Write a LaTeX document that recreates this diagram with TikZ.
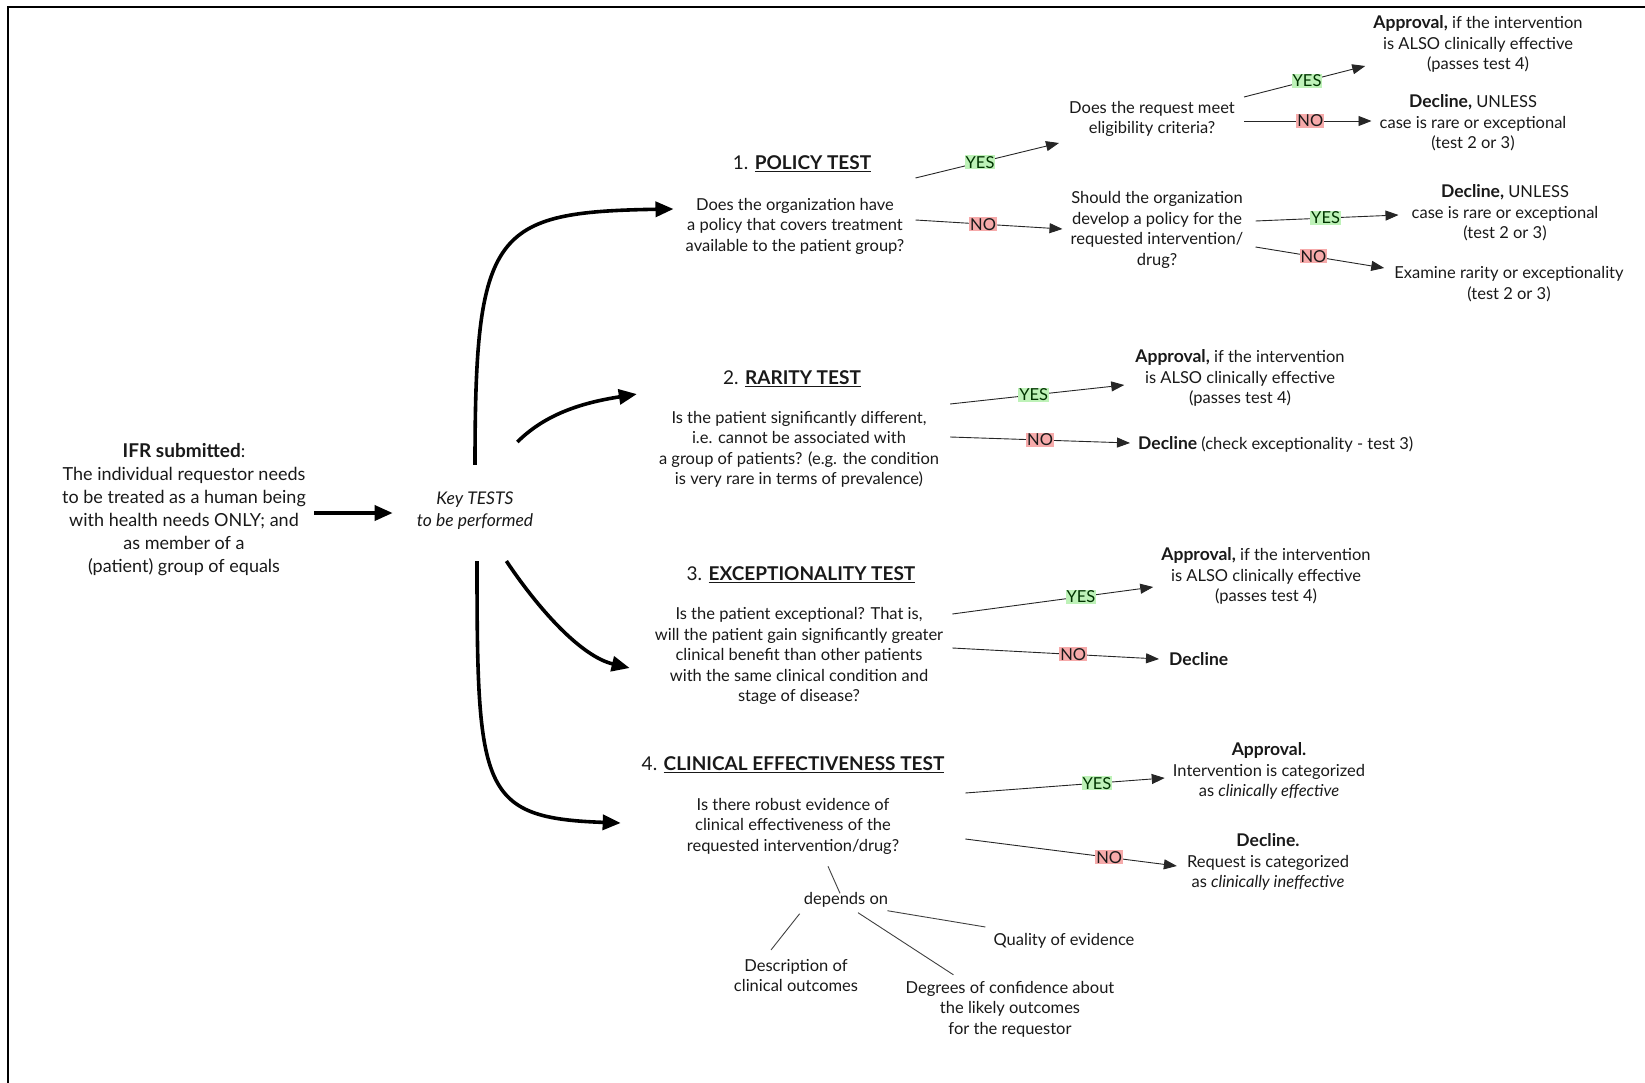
\documentclass[tikz,border=0pt]{standalone}
\usepackage{fontspec}
\setmainfont{Lato}
\usetikzlibrary{arrows.meta}
\definecolor{yesgreen}{RGB}{190,242,184}
\definecolor{nored}{RGB}{246,170,170}

\begin{document}
\begin{tikzpicture}[x=1pt, y=-1pt,
  txt/.style={align=center, inner sep=0pt, text=black!90, font=\fontsize{16.5}{20.5}\selectfont},
  head/.style={inner sep=0pt, text=black!90, font=\fontsize{19}{20}\selectfont},
  big/.style={line width=3.6pt, -{Triangle[length=18pt,width=15pt]}},
  link/.style={line width=0.9pt, black!85, -{Triangle[length=13pt,width=10pt]}},
  tie/.style={line width=0.9pt, black!75},
  yes/.style={fill=yesgreen, inner sep=1pt, text=black!80!green, font=\fontsize{16.5}{16}\selectfont},
  no/.style={fill=nored, inner sep=1pt, text=black!90, font=\fontsize{16.5}{16}\selectfont}]

% page and frame
\useasboundingbox (0,0) rectangle (1645,1083);
\clip (0,0) rectangle (1645,1083);
\draw[line width=2.5pt] (8,7) rectangle (1700,1150);

% request and key tests
\node[txt, font=\fontsize{18}{23}\selectfont] (ifr) at (184,510) {{\fontsize{19}{23}\selectfont\textbf{IFR submitted}}:\\The individual requestor needs\\to be treated as a human being\\with health needs ONLY; and\\as member of a\\(patient) group of equals};
\node[txt, font=\itshape\fontsize{17.5}{22}\selectfont] (key) at (475,511) {Key TESTS\\to be performed};
\draw[big] ([shift={(8,3)}]ifr.east) -- ([shift={(-24,2)}]key.west);

% 1. policy test
\node[head] (h1) at (802,164) {1. \underline{\textbf{POLICY TEST}}};
\node[txt] (q1) at (795,226) {Does the organization have\\a policy that covers treatment\\available to the patient group?};
\node[txt] (elig) at (1152,119) {Does the request meet\\eligibility criteria?};
\node[txt] (dev) at (1157,230) {Should the organization\\develop a policy for the\\requested intervention/\\drug?};
\node[txt] (app1) at (1478,44) {{\fontsize{17.5}{20}\selectfont\textbf{Approval,}} if the intervention\\is ALSO clinically effective\\(passes test 4)};
\node[txt] (dec1) at (1473,123) {{\fontsize{17.5}{20}\selectfont\textbf{Decline,}} UNLESS\\case is rare or exceptional\\(test 2 or 3)};
\node[txt] (dec2) at (1505,213) {{\fontsize{17.5}{20}\selectfont\textbf{Decline,}} UNLESS\\case is rare or exceptional\\(test 2 or 3)};
\node[txt] (exam) at (1509,284) {Examine rarity or exceptionality\\(test 2 or 3)};

\draw[link] ([shift={(11,-48)}]q1.east) -- node[yes, pos=0.45]{YES} ([shift={(-10,24)}]elig.west);
\draw[link] ([shift={(11,-6)}]q1.east) -- node[no, pos=0.46]{NO} ([shift={(-8,-1)}]dev.west);
\draw[link] ([shift={(9,-22)}]elig.east) -- node[yes, pos=0.52]{YES} ([shift={(-8,22)}]app1.west);
\draw[link] ([shift={(9,2)}]elig.east) -- node[no, pos=0.52]{NO} ([shift={(-8,-2)}]dec1.west);
\draw[link] ([shift={(12,-9)}]dev.east) -- node[yes, pos=0.49]{YES} ([shift={(-13,2)}]dec2.west);
\draw[link] ([shift={(12,17)}]dev.east) -- node[no, pos=0.45]{NO} ([shift={(-10,-16)}]exam.west);

% 2. rarity test
\node[head] (h2) at (792,379) {2. \underline{\textbf{RARITY TEST}}};
\node[txt] (q2) at (799,449.5) {Is the patient significantly different,\\i.e. cannot be associated with\\a group of patients? (e.g. the condition\\is very rare in terms of prevalence)};
\node[txt] (app2) at (1240,378) {{\fontsize{17.5}{20}\selectfont\textbf{Approval,}} if the intervention\\is ALSO clinically effective\\(passes test 4)};
\node[txt, anchor=west] (rdec) at (1138,444) {{\fontsize{17.5}{20}\selectfont\textbf{Decline}} (check exceptionality - test 3)};

\draw[link] ([shift={(11,-45.5)}]q2.east) -- node[yes, pos=0.48]{YES} ([shift={(-11,7)}]app2.west);
\draw[link] ([shift={(11,-12.5)}]q2.east) -- node[no, pos=0.5]{NO} ([shift={(-8,-1)}]rdec.west);

% 3. exceptionality test
\node[head] (h3) at (801,575) {3. \underline{\textbf{EXCEPTIONALITY TEST}}};
\node[txt] (q3) at (799,656) {Is the patient exceptional? That is,\\will the patient gain significantly greater\\clinical benefit than other patients\\with the same clinical condition and\\stage of disease?};
\node[txt] (app3) at (1266,576) {{\fontsize{17.5}{20}\selectfont\textbf{Approval,}} if the intervention\\is ALSO clinically effective\\(passes test 4)};
\node[txt, anchor=west, font=\bfseries\fontsize{17.5}{20}\selectfont] (edec) at (1169,659) {Decline};

\draw[link] ([shift={(9,-42)}]q3.east) -- node[yes, pos=0.64]{YES} ([shift={(-8,11)}]app3.west);
\draw[link] ([shift={(9,-8)}]q3.east) -- node[no, pos=0.585]{NO} ([shift={(-10,0)}]edec.west);

% 4. clinical effectiveness test
\node[head] (h4) at (793,765) {4. \underline{\textbf{CLINICAL EFFECTIVENESS TEST}}};
\node[txt] (q4) at (793,826) {Is there robust evidence of\\clinical effectiveness of the\\requested intervention/drug?};
\node[txt] (app4) at (1269,771) {{\fontsize{17.5}{20}\selectfont\textbf{Approval.}}\\Intervention is categorized\\as \textit{clinically effective}};
\node[txt] (dec4) at (1268,862) {{\fontsize{17.5}{20}\selectfont\textbf{Decline.}}\\Request is categorized\\as \textit{clinically ineffective}};

\draw[link] ([shift={(66,-33)}]q4.east) -- node[yes, pos=0.66]{YES} ([shift={(-8,7)}]app4.west);
\draw[link] ([shift={(66,13)}]q4.east) -- node[no, pos=0.68]{NO} ([shift={(-10,4)}]dec4.west);

% what the evidence depends on
\node[txt] (dep) at (846,900) {depends on};
\node[txt] (desc) at (796,975.5) {Description of\\clinical outcomes};
\node[txt] (degr) at (1010,1009) {Degrees of confidence about\\the likely outcomes\\for the requestor};
\node[txt] (qual) at (1064,941) {Quality of evidence};

\draw[tie] ([shift={(35,12)}]q4.south) -- ([shift={(-6,1)}]dep.north);
\draw[tie] ([shift={(-4,6)}]dep.south west) -- ([shift={(-25,-9)}]desc.north);
\draw[tie] ([shift={(12,5)}]dep.south) -- ([shift={(48,-6)}]degr.north west);
\draw[tie] ([shift={(-1,3)}]dep.south east) -- ([shift={(-8,-14)}]qual.west);

% key tests to the four questions
\draw[big] ([shift={(0,-27)}]key.north) .. controls +(0,-235) and +(-180,3) .. ([shift={(-12,-17)}]q1.west);
\draw[big] ([shift={(-16,-50)}]key.north east) .. controls +(30,-30) and +(-50,8) .. ([shift={(-22,-17)}]q2.north west);
\draw[big] ([shift={(-27,31)}]key.south east) .. controls +(30,45) and +(-50,-12) .. ([shift={(-25,12)}]q3.west);
\draw[big] ([shift={(2,31)}]key.south) .. controls +(0,230) and +(-140,-5) .. ([shift={(-66,-3)}]q4.west);
\end{tikzpicture}
\end{document}
